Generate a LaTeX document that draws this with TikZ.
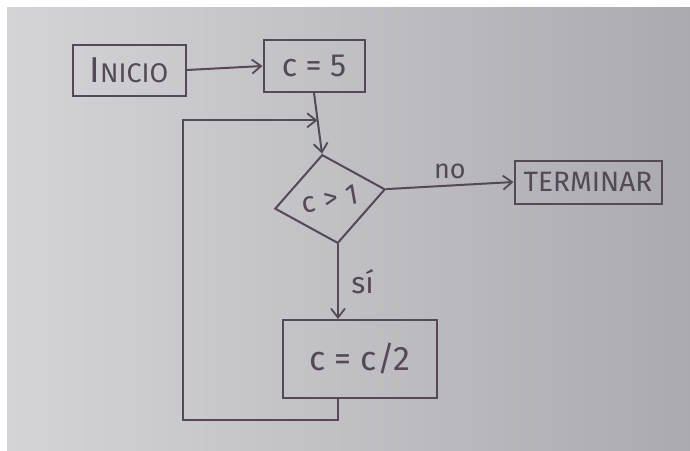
\documentclass[tikz,border=0pt]{standalone}
\usepackage{fontspec}
\setmainfont{Fira Sans}
\usetikzlibrary{shapes.geometric,arrows.meta,calc}
\definecolor{ink}{RGB}{84,74,86}
\definecolor{paperl}{RGB}{212,212,216}
\definecolor{paperr}{RGB}{170,170,176}
\newcommand{\handsz}[1]{\fontsize{#1}{#1}\selectfont}
\begin{document}
\begin{tikzpicture}[x=1pt,y=-1pt,
  box/.style={draw=ink,line width=2pt,text=ink,inner sep=0pt},
  flow/.style={draw=ink,line width=2pt,-{Straight Barb[length=9pt,width=14pt,line width=1.8pt]}},
  every node/.style={text=ink}]
  % paper
  \useasboundingbox (0,0) rectangle (690,450);
  \fill[white] (0,0) rectangle (690,450);
  \shade[left color=paperl,right color=paperr] (7,7) rectangle (690,450);
  % boxes
  \node[box,minimum width=113pt,minimum height=51pt] (inicio) at (129,70) {{\handsz{36}I}{\handsz{27}NICIO}};
  \node[box,minimum width=101pt,minimum height=52pt] (cfive) at (314,66) {\handsz{32}c = 5};
  \node[box,diamond,minimum width=112pt,minimum height=90pt,rotate=10] (test) at (330,199) {\handsz{29}c > 1};
  \node[box,minimum width=147pt,minimum height=43pt] (terminar) at (588,182) {\handsz{28}TERMINAR};
  \node[box,minimum width=154pt,minimum height=78pt] (halve) at (360,359) {\handsz{34}c = c/2};
  % connectors
  \draw[flow] (inicio.east) -- (cfive.west);
  \coordinate (merge) at ($(cfive.south)!0.45!(test.north)$);
  \draw[flow] (cfive.south) -- (test.north);
  \draw[flow] (test.east) -- (terminar.west) node[midway,above=2pt,font=\handsz{27}] (no) {no};
  \draw[flow] (test.south) -- (test.south |- halve.north) node[midway,right=9pt,font=\handsz{30}] (si) {sí};
  \coordinate (lowleft) at (183,420);
  \draw[flow] (halve.south -| test.south) |- (lowleft) |- (merge);
\end{tikzpicture}
\end{document}
